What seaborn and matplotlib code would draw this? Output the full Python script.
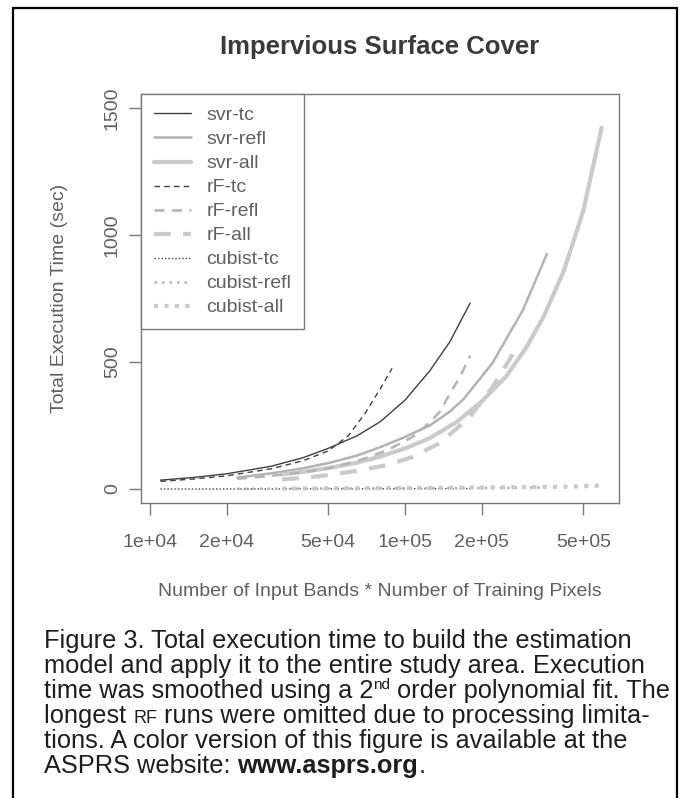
import matplotlib
matplotlib.use('Agg')
import matplotlib.pyplot as plt
import seaborn as sns
from matplotlib.patches import Rectangle

#%% Data (x = bands * pixels, y = seconds)
svr_tc_x = [1.1e4, 1.5e4, 2e4, 3e4, 4e4, 5e4, 6.5e4, 8e4, 1e5, 1.25e5, 1.5e5, 1.8e5]
svr_tc_y = [35, 46, 60, 90, 124, 160, 210, 265, 350, 465, 580, 732]

svr_refl_x = [2.2e4, 3e4, 4e4, 5e4, 6.5e4, 8e4, 1e5, 1.25e5, 1.5e5, 1.7e5, 2.2e5, 2.9e5, 3.6e5]
svr_refl_y = [45, 62, 82, 102, 132, 165, 205, 250, 305, 355, 495, 705, 925]

svr_all_x = [3.3e4, 4e4, 5e4, 6.5e4, 8e4, 1e5, 1.25e5, 1.6e5, 2e5, 2.5e5, 3e5, 3.5e5, 4.2e5, 5e5, 5.9e5]
svr_all_y = [58, 68, 82, 104, 128, 160, 200, 265, 345, 445, 560, 680, 860, 1095, 1422]

rf_tc_x = [1.1e4, 1.5e4, 2e4, 3e4, 4e4, 5e4, 6e4, 7e4, 8e4, 8.9e4]
rf_tc_y = [30, 40, 52, 80, 112, 150, 210, 300, 395, 475]

rf_refl_x = [2.2e4, 3e4, 4e4, 5e4, 6.5e4, 8.5e4, 1.07e5, 1.25e5, 1.37e5, 1.5e5, 1.65e5, 1.8e5]
rf_refl_y = [40, 52, 66, 82, 110, 152, 205, 262, 305, 375, 445, 525]

rf_all_x = [3.3e4, 4e4, 5e4, 6.5e4, 8.5e4, 1.07e5, 1.37e5, 1.8e5, 2.2e5, 2.7e5]
rf_all_y = [38, 44, 55, 72, 94, 126, 181, 285, 400, 545]

cubist_tc_x = [1.1e4, 2e4, 5e4, 1e5, 1.8e5]
cubist_tc_y = [0, 0, 1, 1, 2]

cubist_refl_x = [2.2e4, 5e4, 1e5, 2e5, 3.6e5]
cubist_refl_y = [1, 2, 3, 4, 6]

cubist_all_x = [3.3e4, 1e5, 2e5, 3.5e5, 5e5, 5.9e5]
cubist_all_y = [2, 4, 6, 8, 11, 14]

x_ticks = [1e4, 2e4, 5e4, 1e5, 2e5, 5e5]
x_tick_labels = ['1e+04', '2e+04', '5e+04', '1e+05', '2e+05', '5e+05']
y_ticks = [0, 500, 1000, 1500]
y_tick_labels = ['0', '500', '1000', '1500']

#%% Style
sns.set_style('white')
plt.rcParams['font.family'] = ['Liberation Sans', 'DejaVu Sans']
cap_font = ['Liberation Sans', 'DejaVu Sans']

W, H = 685, 798
fig = plt.figure(figsize=(W / 100, H / 100), dpi=100)
fig.patch.set_facecolor('white')

# outer black frame of the printed figure
fig.patches.append(Rectangle((13 / W, -0.05), (677 - 13) / W, 1.05 - 8 / H,
                             transform=fig.transFigure, fill=False,
                             edgecolor='black', linewidth=1.6))

# [left, bottom, width, height]
ax = fig.add_axes([141 / W, 1 - 503 / H, 478 / W, 409 / H])

dark = '#404040'
mid = '#b3b3b3'
light = '#cacaca'
series = [
    ('svr-tc', svr_tc_x, svr_tc_y, dark, 1.0, '-'),
    ('svr-refl', svr_refl_x, svr_refl_y, mid, 1.8, '-'),
    ('svr-all', svr_all_x, svr_all_y, light, 3.0, '-'),
    ('rF-tc', rf_tc_x, rf_tc_y, dark, 1.0, (0, (4, 3))),
    ('rF-refl', rf_refl_x, rf_refl_y, mid, 1.8, (0, (4, 3))),
    ('rF-all', rf_all_x, rf_all_y, light, 3.0, (0, (4, 3))),
    ('cubist-tc', cubist_tc_x, cubist_tc_y, dark, 1.0, (0, (1, 1.5))),
    ('cubist-refl', cubist_refl_x, cubist_refl_y, mid, 1.8, (0, (1, 2))),
    ('cubist-all', cubist_all_x, cubist_all_y, light, 3.0, (0, (1, 1.5))),
]
for name, xs, ys, col, lw, ls in series:
    sns.lineplot(x=xs, y=ys, ax=ax, color=col, linewidth=lw,
                 linestyle=ls, label=name)

ax.set_xscale('log')
ax.set_xlim(10 ** 3.965, 10 ** 5.839)
ax.set_ylim(-55, 1555)
ax.set_xticks(x_ticks)
ax.set_xticklabels(x_tick_labels)
ax.xaxis.set_minor_locator(matplotlib.ticker.NullLocator())
ax.set_yticks(y_ticks)
ax.set_yticklabels(y_tick_labels, rotation=90, va='center')

axis_gray = '#7a7a7a'
text_gray = '#606060'
for sp in ax.spines.values():
    sp.set_color(axis_gray)
    sp.set_linewidth(1.0)
ax.tick_params(axis='both', which='major', direction='out', length=8.5,
               width=1.0, color=axis_gray, labelcolor=text_gray,
               labelsize=14, bottom=True, left=True)
ax.tick_params(axis='x', pad=14)
ax.tick_params(axis='y', pad=6)

ax.set_xlabel('Number of Input Bands * Number of Training Pixels',
              fontsize=14, color=text_gray)
ax.xaxis.set_label_coords(0.5, (503 - 592) / 409)
ax.xaxis.label.set_va('center')
ax.set_ylabel('Total Execution Time (sec)', fontsize=14, color=text_gray)
ax.yaxis.set_label_coords((60 - 141) / 478, 0.5)
ax.yaxis.label.set_va('center')

leg = ax.legend(loc='upper left', bbox_to_anchor=(0, 1), borderaxespad=0,
                fancybox=False, framealpha=1, edgecolor=axis_gray,
                fontsize=14, handlelength=1.9, handletextpad=0.8,
                labelspacing=0.33, borderpad=0.65)
leg.get_frame().set_linewidth(1.0)
for t in leg.get_texts():
    t.set_color(text_gray)

fig.text(380 / W, 1 - 47 / H, 'Impervious Surface Cover', ha='center',
         va='center', fontsize=18.5, fontweight='bold', color='#3a3a3a')

#%% Caption, drawn piece by piece for superscript, small caps and bold
renderer = fig.canvas.get_renderer()
cap_size = 18.3
cap_left = 44 / W
cap_color = '#1e1e1e'


def caption_line(y_px, pieces):
    x = cap_left
    for txt, kw in pieces:
        props = dict(fontsize=cap_size, family=cap_font, color=cap_color,
                     va='baseline', ha='left')
        dy = kw.pop('dy', 0)
        props.update(kw)
        t = fig.text(x, 1 - (y_px - dy) / H, txt, **props)
        bb = t.get_window_extent(renderer=renderer)
        x += bb.width / W


# baselines in pixels from the top
base = [648, 673, 698, 723, 748, 773]
caption_line(base[0], [('Figure 3. Total execution time to build the estimation', {})])
caption_line(base[1], [('model and apply it to the entire study area. Execution', {})])
caption_line(base[2], [('time was smoothed using a 2', {}),
                       ('nd', {'fontsize': 11, 'dy': 9}),
                       (' order polynomial fit. The', {})])
caption_line(base[3], [('longest ', {}), ('RF', {'fontsize': 13}),
                       (' runs were omitted due to processing limita-', {})])
caption_line(base[4], [('tions. A color version of this figure is available at the', {})])
caption_line(base[5], [('ASPRS website: ', {}),
                       ('www.asprs.org', {'fontweight': 'bold'}),
                       ('.', {})])

fig.savefig('out.png', dpi=100)
